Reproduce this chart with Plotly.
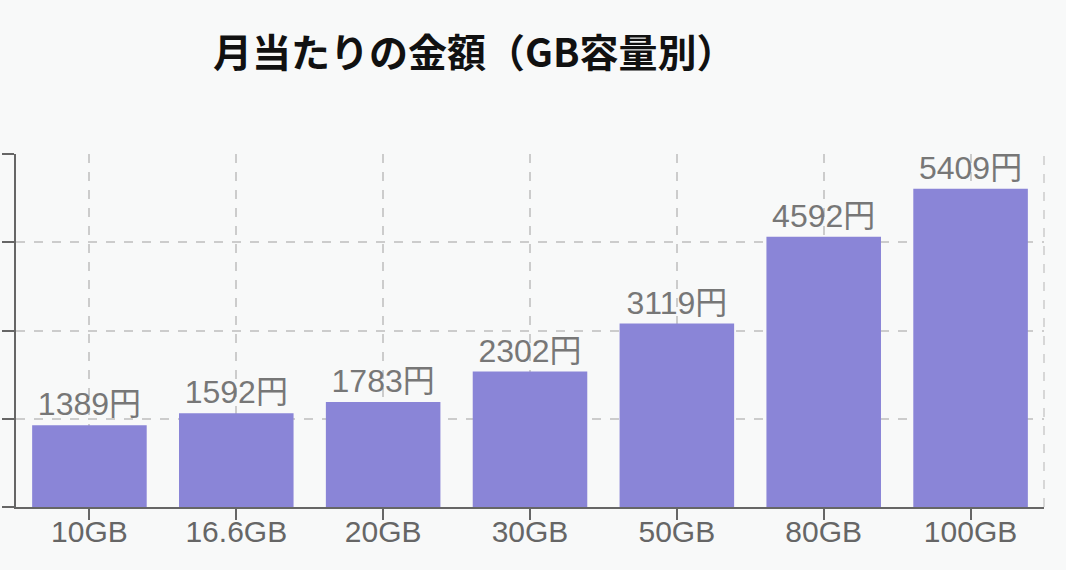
import plotly.graph_objects as go

plans = ["10GB", "16.6GB", "20GB", "30GB", "50GB", "80GB", "100GB"]
prices = [1389, 1592, 1783, 2302, 3119, 4592, 5409]
y_ticks = [0, 1500, 3000, 4500, 6000]

font_main = "Liberation Sans, Noto Sans CJK JP, sans-serif"

fig = go.Figure()
fig.add_trace(go.Bar(
    x=plans,
    y=prices,
    marker_color="#8a85d7",
    marker_line_width=0,
    text=[f"{v}円" for v in prices],
    textposition="outside",
    textfont=dict(size=32, color="#777777", family=font_main),
    cliponaxis=False,
))

fig.update_layout(
    width=1066, height=570,
    paper_bgcolor="#f8f9f9",
    plot_bgcolor="#f8f9f9",
    margin=dict(l=16, r=22, t=154, b=63),
    bargap=0.22,
    showlegend=False,
    title=dict(
        text="<b>月当たりの金額（GB容量別）</b>",
        font=dict(size=39, color="#111111", family="Noto Sans CJK JP"),
        x=213 / 1066, xanchor="left", xref="container",
        y=1 - 53 / 570, yanchor="middle", yref="container",
    ),
)

fig.update_xaxes(
    automargin=False,
    showline=True, linecolor="#666666", linewidth=2,
    ticks="outside", ticklen=11, tickwidth=2, tickcolor="#666666",
    tickfont=dict(size=30, color="#666666", family=font_main),
    ticklabelstandoff=-14,
    showgrid=True, gridcolor="#cccccc", griddash="dash", gridwidth=1.5,
)
fig.update_yaxes(
    automargin=False,
    range=[0, 6000], tickvals=y_ticks, showticklabels=False,
    showline=True, linecolor="#666666", linewidth=2,
    ticks="outside", ticklen=12, tickwidth=2, tickcolor="#666666",
    showgrid=True, gridcolor="#cccccc", griddash="dash", gridwidth=1.5,
    zeroline=False,
)

# right edge dashed border
fig.add_shape(type="line", xref="paper", yref="paper", x0=1, x1=1, y0=0, y1=1,
              line=dict(color="#cccccc", width=1.5, dash="dash"))

fig.write_html("out.html", config={"displayModeBar": False},
               post_script="document.body.style.margin='0';")
